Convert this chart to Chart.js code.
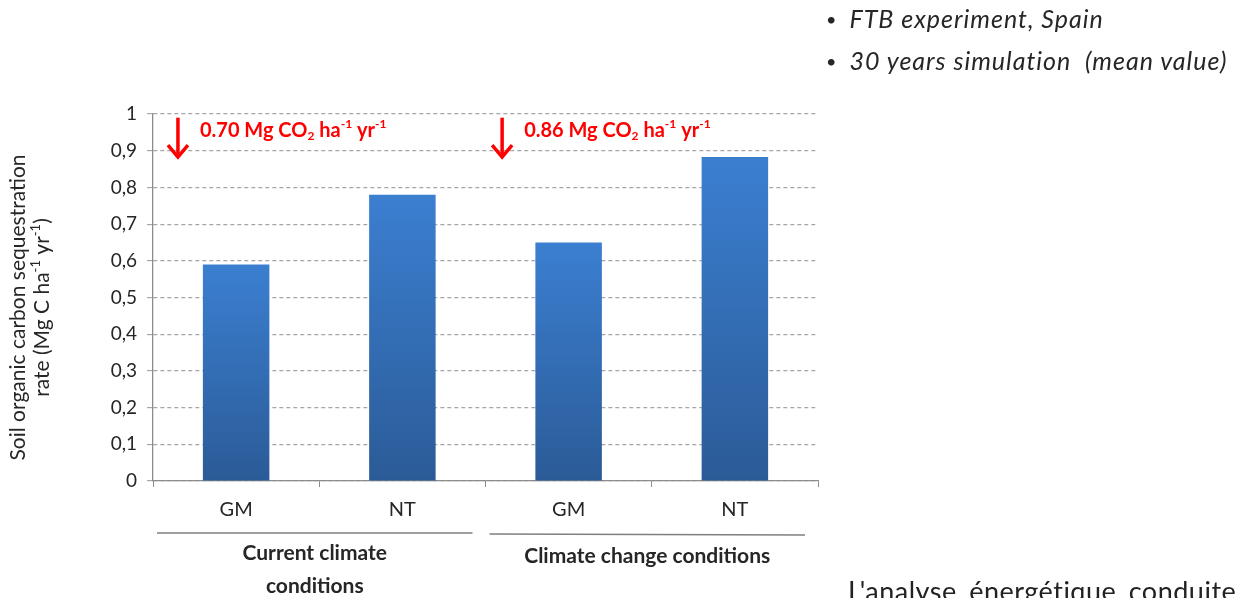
<!DOCTYPE html>
<html>
<head>
<meta charset="utf-8">
<script src="https://cdn.jsdelivr.net/npm/chart.js"></script>
<style>
  html, body { margin: 0; padding: 0; background: #fff; overflow: hidden; }
  #wrap { position: relative; width: 1240px; height: 598px; }
  #chart { position: absolute; left: 0; top: 0; }
  .bullet { position: absolute; left: 826px; font-family: Lato, "Open Sans", sans-serif; font-style: italic; font-size: 25px; letter-spacing: 1px; color: #262626; white-space: pre; }
  .bullet span { font-style: normal; margin-right: 12px; font-size: 18px; position: relative; top: -2px; }
  #para { position: absolute; left: 848px; top: 574px; font-family: Lato, "Open Sans", sans-serif; font-size: 27px; color: #222; word-spacing: 5px; letter-spacing: 0.5px; white-space: pre; }
</style>
</head>
<body>
<div id="wrap">
  <canvas id="chart" width="1240" height="598"></canvas>
  <div class="bullet" style="top:3px"><span>•</span>FTB experiment, Spain</div>
  <div class="bullet" style="top:45px"><span>•</span>30 years simulation  (mean value)</div>
  <div id="para">L'analyse énergétique conduite</div>
</div>
<script>
// data
var categories = ["GM", "NT", "GM", "NT"];
var sequestration = [0.59, 0.78, 0.65, 0.883];
var yTicks = [0, 0.1, 0.2, 0.3, 0.4, 0.5, 0.6, 0.7, 0.8, 0.9, 1];
var groups = [["Current climate", "conditions"], ["Climate change conditions"]];
var groupRanges = [[0, 1], [2, 3]];
var co2Values = ["0.70", "0.86"];
var co2Start = [0, 2]; // category where each annotation sits

const FONT = "Lato, 'Open Sans', sans-serif";
const TEXT = "#262626";

const ctx = document.getElementById("chart");

// extra drawing: axis title, group labels, red annotations
const extras = {
  id: "extras",
  afterDraw: (chart) => {
    const c = chart.ctx;
    const x = chart.scales.x;
    const y = chart.scales.y;
    const area = chart.chartArea;
    const cat = (area.right - area.left) / categories.length;

    c.save();
    // y axis title
    c.translate(30, (area.top + area.bottom) / 2 + 10);
    c.rotate(-Math.PI / 2);
    c.fillStyle = TEXT;
    c.font = "21px " + FONT;
    c.textAlign = "center";
    c.textBaseline = "middle";
    c.fillText("Soil organic carbon sequestration", 0, -12);
    drawRich(c, [["rate (Mg C ha", 0], ["-1", 1], [" yr", 0], ["-1", 1], [")", 0]], 0, 12, 21, "center");
    c.restore();

    // group lines and labels
    c.save();
    c.strokeStyle = "#7f7f7f";
    c.lineWidth = 1.3;
    c.fillStyle = TEXT;
    c.font = "bold 21px " + FONT;
    c.textAlign = "center";
    c.textBaseline = "middle";
    groupRanges.forEach((r, i) => {
      const l = x.getPixelForValue(r[0]) - cat / 2 + 4;
      const rr = x.getPixelForValue(r[1]) + cat / 2 - 13;
      c.beginPath();
      c.moveTo(l, 533 + i);
      c.lineTo(rr, 533 + i * 2);
      c.stroke();
      const mid = (l + rr) / 2;
      groups[i].forEach((t, k) => c.fillText(t, mid, (groups[i].length > 1 ? 553 : 556) + k * 33));
    });
    c.restore();

    // red arrows and CO2 text
    c.save();
    c.strokeStyle = "#ff0000";
    c.fillStyle = "#ff0000";
    co2Values.forEach((v, i) => {
      const ax = x.getPixelForValue(co2Start[i]) - cat * (i === 0 ? 0.35 : 0.40);
      const yTop = y.getPixelForValue(0.99);
      const yBot = y.getPixelForValue(0.88);
      c.lineWidth = 3.5;
      c.beginPath();
      c.moveTo(ax, yTop);
      c.lineTo(ax, yBot - 4);
      c.stroke();
      c.beginPath();
      c.moveTo(ax - 10, yBot - 13);
      c.lineTo(ax, yBot - 1);
      c.lineTo(ax + 10, yBot - 13);
      c.stroke();
      drawRich(c, [[v + " Mg CO", 0], ["2", -1], [" ha", 0], ["-1", 1], [" yr", 0], ["-1", 1]],
        ax + 22, y.getPixelForValue(0.955), 20, "left", "bold");
    });
    c.restore();
  },
};

// draws text with super/subscript pieces: kind 1 = superscript, -1 = subscript
function drawRich(c, parts, x0, yMid, size, align, weight) {
  weight = weight ? weight + " " : "";
  const small = Math.round(size * 0.6);
  let total = 0;
  parts.forEach((p) => {
    c.font = weight + (p[1] ? small : size) + "px " + FONT;
    total += c.measureText(p[0]).width;
  });
  let cx = align === "center" ? x0 - total / 2 : x0;
  c.textAlign = "left";
  c.textBaseline = "middle";
  parts.forEach((p) => {
    c.font = weight + (p[1] ? small : size) + "px " + FONT;
    const dy = p[1] === 1 ? -size * 0.3 : p[1] === -1 ? size * 0.3 : 0;
    c.fillText(p[0], cx, yMid + dy);
    cx += c.measureText(p[0]).width;
  });
}

new Chart(ctx, {
  type: "bar",
  data: {
    labels: categories,
    datasets: [
      {
        data: sequestration,
        barPercentage: 0.8,
        categoryPercentage: 0.5,
        backgroundColor: function (context) {
          const chart = context.chart;
          const ys = chart.scales.y;
          if (!ys || context.type !== "data") return "#3570b8";
          const top = ys.getPixelForValue(context.raw);
          const bot = ys.getPixelForValue(0);
          if (!isFinite(top) || !isFinite(bot) || top === bot) return "#3570b8";
          const g = chart.ctx.createLinearGradient(0, top, 0, bot);
          g.addColorStop(0, "#3b7fd1");
          g.addColorStop(1, "#2b5b97");
          return g;
        },
        borderWidth: 0,
      },
    ],
  },
  plugins: [extras],
  options: {
    responsive: false,
    animation: false,
    events: [],
    layout: { padding: { top: 114, right: 422, bottom: 0, left: 0 } },
    plugins: {
      legend: { display: false },
      tooltip: { enabled: false },
    },
    scales: {
      x: {
        afterFit: (scale) => { scale.height = 117; },
        grid: {
          offset: true,
          drawOnChartArea: false,
          drawTicks: true,
          tickLength: 6,
          tickColor: "#8c8c8c",
        },
        border: { color: "#8c8c8c", width: 1.3 },
        ticks: {
          color: TEXT,
          padding: 11,
          font: { family: FONT, size: 20 },
        },
      },
      y: {
        min: 0,
        max: 1,
        afterFit: (scale) => { scale.width = 153; },
        afterBuildTicks: (scale) => { scale.ticks = yTicks.map((v) => ({ value: v })); },
        grid: {
          color: "#a6a6a6",
          lineWidth: 1.2,
          tickLength: 6,
          tickColor: "#a6a6a6",
        },
        border: { color: "#8c8c8c", width: 1.3, dash: [4, 3] },
        ticks: {
          color: TEXT,
          padding: 10,
          font: { family: FONT, size: 19 },
          callback: (v) => (v === 0 || v === 1 ? String(v) : v.toFixed(1).replace(".", ",")),
        },
      },
    },
  },
});
</script>
</body>
</html>
